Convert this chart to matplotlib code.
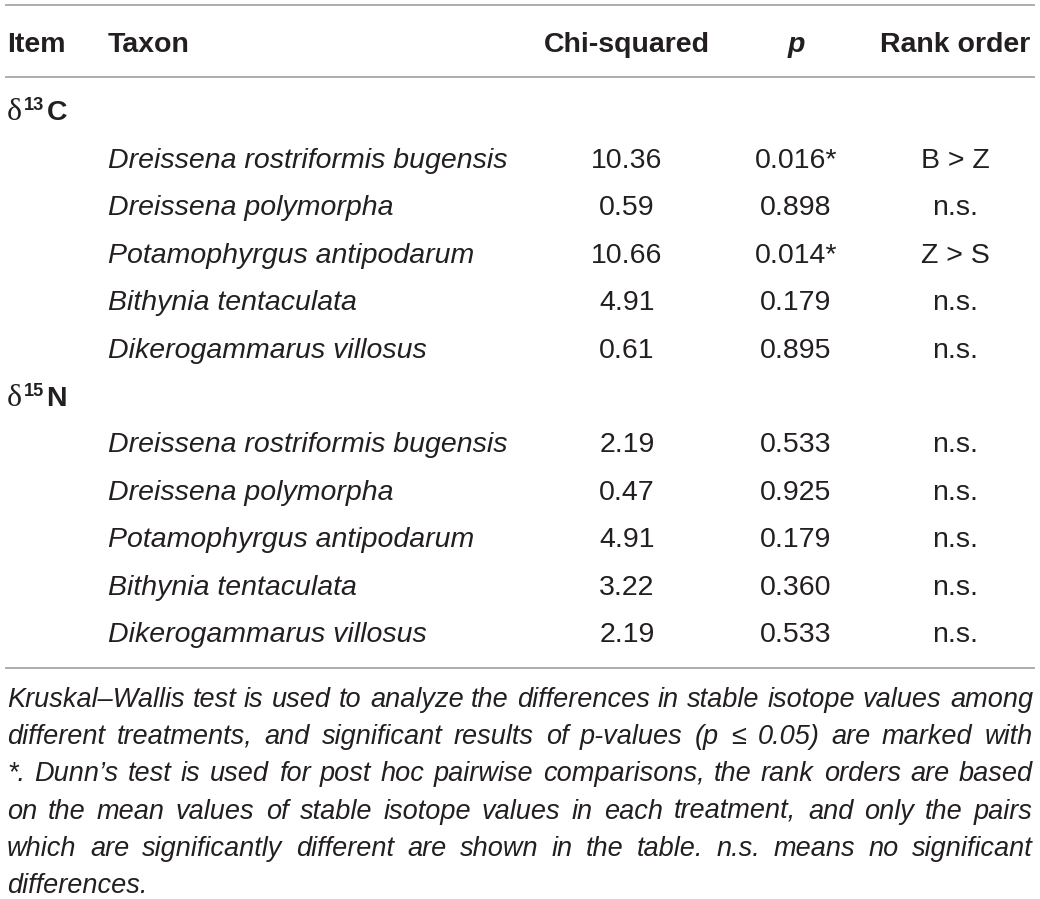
"""
Kruskal-Wallis results table (stable isotopes per taxon)
"""

import matplotlib
matplotlib.use("Agg")
import matplotlib.pyplot as plt
from matplotlib import font_manager

W, H = 1040, 899

headers = ["Item", "Taxon", "Chi-squared", "p", "Rank order"]
groups = [("13", "C"), ("15", "N")]
taxa = [
    "Dreissena rostriformis bugensis",
    "Dreissena polymorpha",
    "Potamophyrgus antipodarum",
    "Bithynia tentaculata",
    "Dikerogammarus villosus",
]
chi_c = ["10.36", "0.59", "10.66", "4.91", "0.61"]
p_c = ["0.016*", "0.898", "0.014*", "0.179", "0.895"]
rank_c = ["B > Z", "n.s.", "Z > S", "n.s.", "n.s."]
chi_n = ["2.19", "0.47", "4.91", "3.22", "2.19"]
p_n = ["0.533", "0.925", "0.179", "0.360", "0.533"]
rank_n = ["n.s.", "n.s.", "n.s.", "n.s.", "n.s."]

footnote = [
    "Kruskal–Wallis test is used to analyze the differences in stable isotope values among",
    "different treatments, and significant results of p-values (p ≤ 0.05) are marked with",
    "*. Dunn’s test is used for post hoc pairwise comparisons, the rank orders are based",
    "on the mean values of stable isotope values in each treatment, and only the pairs",
    "which are significantly different are shown in the table. n.s. means no significant",
    "differences.",
]

SANS = "Liberation Sans"
installed = {f.name for f in font_manager.fontManager.ttflist}
NARROW = "Liberation Sans Narrow" if "Liberation Sans Narrow" in installed else SANS
TXT = "#231f20"
RULE = "#a0a0a0"
FS = 20.5

fig = plt.figure(figsize=(W / 100, H / 100), dpi=100)
ax = fig.add_axes([0, 0, 1, 1])
ax.set_xlim(0, W)
ax.set_ylim(H, 0)
ax.axis("off")
renderer = fig.canvas.get_renderer()


def width_of(t):
    return t.get_window_extent(renderer).width


# rules
ax.hlines([5, 77, 668], 5, 1035, color=RULE, lw=1.2)

# header
x_item, x_taxon = 7, 108
x_chi, x_p, x_rank = 627, 796, 955
hy = 52
ax.text(x_item, hy, headers[0], fontsize=FS, fontweight="bold", family=SANS, color=TXT, va="baseline")
ax.text(x_taxon, hy, headers[1], fontsize=FS, fontweight="bold", family=SANS, color=TXT, va="baseline")
ax.text(x_chi, hy, headers[2], fontsize=FS, fontweight="bold", family=SANS, color=TXT, va="baseline", ha="center")
ax.text(x_p, hy, headers[3], fontsize=FS, fontweight="bold", style="italic", family=SANS, color=TXT,
        va="baseline", ha="center")
ax.text(x_rank, hy, headers[4], fontsize=FS, fontweight="bold", family=SANS, color=TXT, va="baseline", ha="center")

row_h = 47.4
y0 = 168
blocks = [(chi_c, p_c, rank_c), (chi_n, p_n, rank_n)]
for g, ((sup, el), (chi, pv, rank)) in enumerate(zip(groups, blocks)):
    gy = round(y0 + g * 6 * row_h - row_h + (-1 if g == 0 else 1))
    d = ax.text(x_item, gy, "δ", fontsize=FS * 1.12, family="Liberation Serif", color=TXT, va="baseline")
    x = x_item + width_of(d) + 2
    s = ax.text(x, gy - 10, sup, fontsize=FS * 0.64, fontweight="bold", family=SANS, color=TXT, va="baseline")
    x += width_of(s) + 2
    ax.text(x, gy, el, fontsize=FS, fontweight="bold", family=SANS, color=TXT, va="baseline")
    for i, name in enumerate(taxa):
        y = round(y0 + (g * 6 + i) * row_h)
        ax.text(x_taxon, y, name, fontsize=FS, style="italic", family=SANS, color=TXT, va="baseline")
        ax.text(x_chi, y, chi[i], fontsize=FS, family=SANS, color=TXT, va="baseline", ha="center")
        ax.text(x_p, y, pv[i], fontsize=FS, family=SANS, color=TXT, va="baseline", ha="center")
        ax.text(x_rank, y, rank[i], fontsize=FS, family=SANS, color=TXT, va="baseline", ha="center")

# footnote, justified
left, right = 7, 1033
fs_note = 19.5


def line_words(fs):
    out = []
    for line in footnote:
        words = line.split(" ")
        ws = []
        for wd in words:
            t = ax.text(0, 0, wd, fontsize=fs, style="italic", family=NARROW)
            ws.append(width_of(t))
            t.remove()
        out.append((words, ws))
    return out


measured = line_words(fs_note)
space_w = 0.2 * fs_note
widest = max(sum(ws) + space_w * (len(ws) - 1) for _, ws in measured)
if widest > right - left:
    fs_note *= (right - left) / widest
    measured = line_words(fs_note)
    space_w = 0.2 * fs_note

for k, (words, ws) in enumerate(measured):
    y = round(707 + k * 37.2)
    last = k == len(measured) - 1
    gap = space_w if last or len(words) < 2 else (right - left - sum(ws)) / (len(words) - 1)
    x = left
    for wd, w in zip(words, ws):
        ax.text(round(x), y, wd, fontsize=fs_note, style="italic", family=NARROW, color=TXT, va="baseline")
        x += w + gap

fig.savefig("out.png", dpi=100, facecolor="white")
plt.close(fig)
